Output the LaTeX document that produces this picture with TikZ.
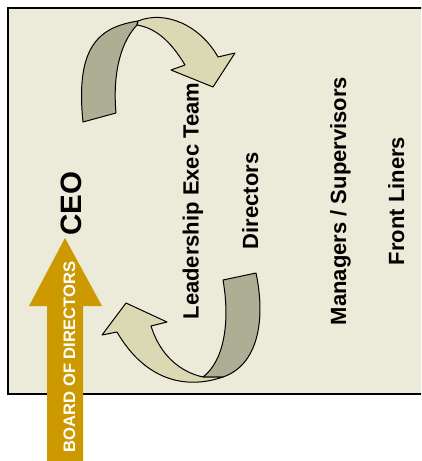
\documentclass[tikz,border=0pt]{standalone}
\usepackage{fontspec}
\setmainfont{Liberation Sans}
\usetikzlibrary{positioning}
\definecolor{panelbg}{RGB}{236,235,217}
\definecolor{ribbondark}{RGB}{173,174,147}
\definecolor{ribbonlight}{RGB}{219,217,180}
\definecolor{boardgold}{RGB}{204,153,0}
\tikzset{
    level/.style={rotate=90,anchor=base,inner sep=0pt,font=\fontsize{22}{24}\selectfont\bfseries},
    ribbon/.style={draw=black,line width=1pt,line join=round}
}
\newcommand{\levelLabel}[3]{%
    \node[level] (#3) at (#1,201) {#2};
}

\begin{document}
\begin{tikzpicture}[x=1pt,y=-1pt]
    \useasboundingbox (0,0) rectangle (421,461);
    \clip (0,0) rectangle (421,461);
    %panel
    \draw[fill=panelbg,line width=2pt] (7.5,7.5) rectangle (430,394);
    %board arrow
    \fill[boardgold] (47,470) -- (47,306) -- (29,306) -- (65,238) -- (102,306) -- (83,306) -- (83,470) -- cycle;
    \node[rotate=90,anchor=base,inner sep=0pt,text=white,font=\fontsize{16.6}{18}\selectfont\bfseries] (board) at (75,357) {BOARD OF DIRECTORS};
    %levels
    \node[level,font=\fontsize{29.5}{32}\selectfont\bfseries] (ceo) at (81.5,203.5) {CEO};
    \levelLabel{198.5}{Leadership Exec Team}{lead}
    \levelLabel{258}{Directors}{dir}
    \levelLabel{346}{Managers / Supervisors}{mgr}
    \levelLabel{404}{Front Liners}{front}
    %top ribbon
    \draw[ribbon,fill=ribbondark] (83,122) -- (116,113) .. controls (113,80) and (118,45) .. (137,25)
        -- (138,21) .. controls (100,27) and (75,45) .. (83,122) -- cycle;
    \draw[ribbon,fill=ribbonlight] (138,21) .. controls (165,10) and (200,25) .. (218,57)
        -- (235,53) -- (213,87) -- (171,70) -- (185,65)
        .. controls (170,40) and (155,28) .. (137,25) -- cycle;
    %bottom ribbon
    \draw[ribbon,fill=ribbondark] (223,280) -- (256,273) .. controls (266,320) and (258,365) .. (223,377)
        -- (203,377) .. controls (225,360) and (230,320) .. (223,280) -- cycle;
    \draw[ribbon,fill=ribbonlight] (223,377) .. controls (185,390) and (145,380) .. (117,332)
        -- (102,335) -- (126,303) -- (167,322) -- (151,326)
        .. controls (160,355) and (180,372) .. (203,377) -- cycle;
\end{tikzpicture}
\end{document}
